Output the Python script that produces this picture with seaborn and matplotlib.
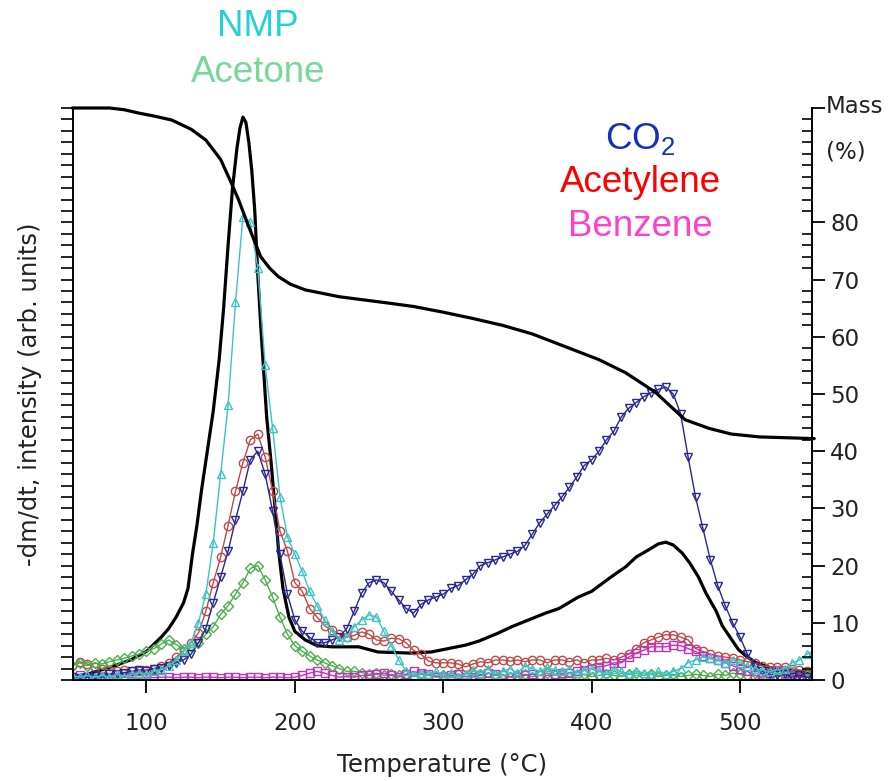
import matplotlib
matplotlib.use("Agg")
import matplotlib.pyplot as plt
import seaborn as sns
from matplotlib.ticker import MultipleLocator, FixedLocator, NullFormatter

# ---------------- data ----------------
temps = list(range(50, 551, 5))

nmp = [0.8, 0.5, 0.8, 0.5, 0.8, 0.5, 1.0, 0.6, 1.0, 1.2,
       1.0, 1.5, 1.8, 2.5, 3.5, 5.0, 6.5, 10, 15, 24,
       36, 48, 66, 81, 80, 72, 55, 44, 32, 25,
       22, 19, 15.5, 13, 10.5, 8.5, 7, 7.5, 9.3, 10.5,
       11.4, 11, 8.5, 6, 3.5, 1.5, 0.8, 1.2, 1.0, 1.5,
       0.8, 1.2, 0.6, 1.0, 1.8, 1.2, 2.0, 1.0, 1.5, 2.0,
       1.2, 2.5, 2.0, 1.5, 2.2, 1.8, 1.5, 2.0, 1.2, 1.8,
       2.0, 1.5, 1.2, 2.0, 1.5, 1.0, 1.5, 1.2, 1.0, 1.5,
       1.0, 1.5, 2.0, 3.0, 3.5, 4.0, 3.8, 3.5, 3.0, 3.5,
       3.0, 2.5, 2.0, 1.7, 1.5, 1.8, 2.0, 3.0, 3.5, 4.5,
       5.2]

acetone = [2.5, 3.0, 2.5, 3.0, 2.8, 3.2, 3.5, 3.8, 4.2, 4.5,
           5.0, 5.5, 6.3, 7.0, 6.2, 5.5, 6.0, 6.5, 8.0, 9.3,
           11.5, 13, 15, 17, 19.5, 20, 17.5, 14.5, 11, 8,
           6.0, 5.0, 4.2, 3.5, 3.0, 2.5, 2.0, 1.5, 1.5, 1.3,
           1.0, 1.2, 0.8, 1.0, 0.8, 1.0, 0.6, 1.0, 0.8, 0.5,
           0.8, 0.5, 1.0, 0.6, 0.8, 1.0, 0.5, 0.8, 1.0, 0.6,
           0.8, 1.0, 0.6, 0.8, 1.2, 0.8, 1.0, 0.6, 0.8, 1.0,
           0.6, 0.8, 1.0, 0.8, 0.6, 1.0, 1.2, 0.8, 1.0, 0.6,
           0.8, 1.0, 0.6, 0.8, 1.0, 0.8, 0.6, 1.0, 0.8, 1.2,
           1.0, 0.8, 1.2, 1.0, 0.8, 0.6, 0.8, 1.0, 0.6, 0.8,
           1.0]

acetylene = [2.5, 3.2, 2.8, 2.2, 2.0, 1.8, 1.5, 1.8, 1.5, 1.5,
             1.8, 2.0, 2.5, 3.0, 4.0, 5.0, 6.5, 8.2, 12, 17,
             21.5, 27, 33, 38, 42, 43, 39, 33, 26, 22.5,
             17, 15.5, 12.5, 11, 9.5, 8.7, 8.0, 7.5, 7.8, 8.4,
             8.0, 7.0, 6.8, 7.3, 7.2, 6.5, 5.2, 4.5, 3.3, 3.0,
             3.0, 3.0, 2.8, 2.3, 2.8, 3.2, 3.0, 3.5, 3.5, 3.3,
             3.5, 3.2, 3.5, 3.5, 3.0, 3.5, 3.5, 3.2, 3.5, 3.0,
             3.5, 3.5, 3.8, 3.5, 4.0, 4.5, 5.5, 6.5, 7.0, 7.5,
             7.9, 7.9, 7.5, 7.0, 5.5, 5.0, 4.5, 4.2, 4.0, 3.8,
             3.5, 3.2, 3.0, 2.5, 2.3, 2.3, 2.3, 2.0, 1.7, 1.5,
             1.5]

benzene = [0.5, 0.8, 0.5, 0.3, 0.5, 0.5, 0.3, 0.5, 0.5, 0.3,
           0.5, 0.4, 0.5, 0.5, 0.4, 0.5, 0.5, 0.4, 0.5, 0.5,
           0.4, 0.5, 0.5, 0.4, 0.5, 0.5, 0.4, 0.5, 0.5, 0.4,
           0.5, 0.8, 1.2, 1.5, 1.2, 0.8, 0.5, 0.6, 0.5, 0.8,
           0.8, 1.0, 1.2, 0.8, 0.5, 1.0, 1.5, 1.2, 1.0, 0.6,
           0.5, 0.8, 1.0, 0.6, 0.5, 0.8, 1.2, 1.0, 0.8, 0.5,
           0.5, 0.8, 1.0, 0.8, 0.8, 1.0, 1.2, 1.2, 1.5, 1.8,
           2.0, 2.3, 2.5, 3.0, 3.0, 4.0, 4.7, 5.2, 5.8, 5.8,
           5.8, 6.1, 6.0, 5.5, 5.0, 4.2, 3.8, 3.5, 3.0, 2.5,
           2.0, 1.5, 0.8, 0.5, 1.2, 1.7, 1.2, 0.8, 0.5, 0.5,
           0.5]

co2 = [0.5, 0.3, 0.5, 0.8, 0.5, 1.0, 1.0, 1.3, 1.5, 1.8,
       1.5, 2.0, 2.1, 2.5, 3.0, 3.5, 4.5, 6.5, 9.0, 13.5,
       18, 22.5, 28, 33, 38.5, 40, 36, 29.5, 22, 15,
       10.5, 8.5, 7.5, 6.5, 6.5, 7.0, 7.5, 9.0, 12, 15.2,
       17, 17.5, 17, 15.5, 14, 12.5, 11.7, 13.2, 14, 14.5,
       15, 16, 16.5, 17.5, 18.5, 20, 20.5, 21, 21.5, 22,
       22.5, 23.5, 25.5, 27.5, 29, 30.5, 32, 33.7, 35.5, 37.5,
       38.5, 40, 42, 43.5, 46, 47.5, 48.5, 49.5, 50.2, 50.8,
       51.2, 50, 46.5, 39, 32, 26.5, 21, 16.5, 13, 10,
       7.5, 4.5, 2.5, 1.5, 1.0, 0.8, 1.0, 0.5, 0.8, 0.5,
       0.5]

dtg_T = [50, 60, 70, 80, 90, 100, 110, 115, 120, 125, 128, 131, 134, 137, 141,
         145, 149, 152, 155, 158, 161, 163, 165, 167, 169, 171, 173, 175, 177,
         179, 181, 184, 187, 189, 192, 196, 200, 207, 215, 225, 243, 256, 278,
         292, 315, 324, 337, 346, 369, 378, 391, 400, 413, 423, 430, 438, 445,
         450, 455, 461, 466, 472, 477, 484, 488, 494, 499, 505, 511, 521, 535, 550]
dtg = [0.5, 1.0, 1.8, 2.6, 3.6, 5.0, 7.5, 9.0, 11, 13.5, 16, 22, 27, 33, 40,
       47, 56, 65, 76, 86, 93, 96.5, 98.4, 97.5, 94, 89, 82, 71, 62,
       54, 46, 38, 29, 22.7, 16, 11, 8.5, 7, 6, 5.8, 5.8, 4.9, 4.7,
       4.9, 6.1, 6.8, 8.2, 9.3, 11.7, 12.5, 14.5, 15.5, 18, 19.8, 21.5, 22.7, 23.8,
       24.1, 23.6, 22.2, 20.5, 18, 15.2, 12, 9.5, 7.2, 5.3, 4, 3, 2.1, 1.6, 1.4]

mass_T = [50, 75, 85, 95, 105, 117, 130, 140, 150, 157, 162, 169, 177, 183, 189,
          197, 207, 230, 260, 280, 300, 320, 340, 360, 380, 405, 423, 443, 463,
          479, 494, 513, 550]
mass = [100, 100, 99.7, 99.1, 98.6, 97.9, 96.3, 94.4, 91, 87, 84, 79.2, 74, 72, 70.5,
        69.2, 68.2, 67, 66, 65.3, 64.3, 63.2, 62, 60.5, 58.5, 56, 53.7, 50.3, 45.5,
        44, 43, 42.5, 42.2]

mass_ticks = [0, 10, 20, 30, 40, 50, 60, 70, 80, 100]
mass_ticklabels = ["0", "10", "20", "30", "40", "50", "60", "70", "80", ""]
x_ticks = [100, 200, 300, 400, 500]

# ---------------- style ----------------
sns.set_theme(style="ticks")
plt.rcParams["font.family"] = ["DejaVu Sans"]

W, H = 896, 781
fig = plt.figure(figsize=(W / 100, H / 100), dpi=100)
ax = fig.add_axes([73 / W, (H - 680) / H, (812 - 73) / W, (680 - 108) / H])

series = [
    (acetylene, "o", "#c04848"),
    (acetone, "D", "#4caf4c"),
    (benzene, "s", "#c035c0"),
    (co2, "v", "#28288f"),
    (nmp, "^", "#3cc4c4"),
]

sns.lineplot(x=dtg_T, y=dtg, ax=ax, color="black", linewidth=2.3,
             estimator=None, sort=False, legend=False)

for vals, mk, col in series:
    sns.lineplot(x=temps, y=vals, ax=ax, color=col, linewidth=1.0,
                 marker=mk, markersize=6 if mk != "D" else 5,
                 markerfacecolor="none", markeredgecolor=col,
                 markeredgewidth=1.0, estimator=None, sort=False, legend=False)

ax.set_xlim(50.5, 548.5)
ax.set_ylim(0, 100)

ax2 = ax.twinx()
sns.lineplot(x=mass_T, y=mass, ax=ax2, color="black", linewidth=2.3,
             estimator=None, sort=False, legend=False)
ax2.set_ylim(0, 100)
ax2.set_xlim(50.5, 548.5)
for l in ax2.get_lines():
    l.set_clip_on(False)

# spines
for a in (ax, ax2):
    a.spines["top"].set_visible(False)
    for s in a.spines.values():
        s.set_color("black")
        s.set_linewidth(1.4)
ax.spines["right"].set_visible(False)
ax2.spines["left"].set_visible(False)
ax2.spines["bottom"].set_visible(False)

# x ticks
ax.xaxis.set_major_locator(FixedLocator(x_ticks))
ax.tick_params(axis="x", direction="out", length=9, width=1.3, colors="black",
               labelsize=16.5, pad=14, labelcolor="#222222")

# left ticks (unlabelled)
ax.yaxis.set_major_locator(MultipleLocator(2))
ax.yaxis.set_major_formatter(NullFormatter())
ax.tick_params(axis="y", direction="out", length=9, width=1.2, colors="black")

# right ticks
ax2.yaxis.set_major_locator(FixedLocator(mass_ticks))
ax2.set_yticklabels(mass_ticklabels)
ax2.yaxis.set_minor_locator(MultipleLocator(2))
ax2.tick_params(axis="y", which="major", direction="out", length=9, width=1.3,
                labelsize=16.5, pad=4, colors="black", labelcolor="#222222")
ax2.tick_params(axis="y", which="minor", direction="in", length=7, width=1.2,
                colors="black")

ax.set_xlabel("Temperature (°C)", fontsize=17.5, labelpad=13, color="#222222")
ax.set_ylabel("-dm/dt, intensity (arb. units)", fontsize=17.5, labelpad=10,
              color="#222222")
ax2.set_ylabel("")

fig.text(826 / W, 1 - 95 / H, "Mass\n(%)", fontsize=16.5, color="#222222",
         ha="left", va="top", linespacing=2.25,
         transform=fig.transFigure)

# species labels
lab = dict(fontsize=26.5, ha="center", va="center", family=["Liberation Sans", "DejaVu Sans"])
fig.text(258 / W, 1 - 26 / H, "NMP", color="#22d2d2", **lab)
fig.text(258 / W, 1 - 72 / H, "Acetone", color="#78d898", **lab)
fig.text(640 / W, 1 - 140 / H, r"CO$_\mathregular{2}$", color="#1030c0", **lab)
fig.text(640 / W, 1 - 183 / H, "Acetylene", color="#ff0000", **lab)
fig.text(640 / W, 1 - 226 / H, "Benzene", color="#ff40c8", **lab)

fig.savefig("out.png", dpi=100)
